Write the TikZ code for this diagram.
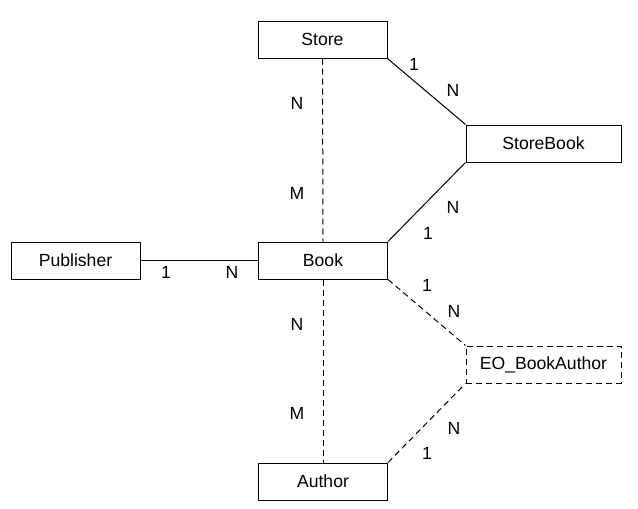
\documentclass[tikz,border=0pt]{standalone}
\usepackage{fontspec}
\setmainfont{Liberation Sans}
\begin{document}
\begin{tikzpicture}[x=1pt,y=-1pt,
  ent/.style={draw, line width=1pt, minimum width=129pt, minimum height=37pt, inner sep=0pt, font=\fontsize{17.6}{21}\selectfont},
  wide/.style={ent, minimum width=155pt},
  dashedbox/.style={wide, dash pattern=on 6pt off 4pt},
  conn/.style={line width=1pt},
  dconn/.style={line width=1pt, dash pattern=on 6pt off 4pt},
  lbl/.style={font=\fontsize{17.6}{21}\selectfont, inner sep=0pt}]
\useasboundingbox (0,0) rectangle (638,509);
\node[ent] (store) at (322.5,39.5) {Store};
\node[wide] (storebook) at (543.5,143.5) {StoreBook};
\node[ent] (publisher) at (75.5,260.5) {Publisher};
\node[ent] (book) at (323,260.5) {Book};
\node[dashedbox] (eo) at (543.5,364.5) {EO\_BookAuthor};
\node[ent] (author) at (323,481.5) {Author};

\draw[conn] (store.south east) -- (storebook.north west);
\draw[conn] (storebook.south west) -- (book.north east);
\draw[conn] (publisher.east) -- (book.west);
\draw[dconn] (store.south) -- (book.north);
\draw[dconn] (book.south) -- (author.north);
\draw[dconn] (book.south east) -- (eo.north west);
\draw[dconn] (author.north east) -- (eo.south west);

\node[lbl] (l1) at (414,64) {1};
\node[lbl] (l2) at (453,90) {N};
\node[lbl] (l3) at (297,103) {N};
\node[lbl] (l4) at (297,193) {M};
\node[lbl] (l5) at (453,207) {N};
\node[lbl] (l6) at (428,233) {1};
\node[lbl] (l7) at (166,272) {1};
\node[lbl] (l8) at (232,272) {N};
\node[lbl] (l9) at (427,285) {1};
\node[lbl] (l10) at (454,311) {N};
\node[lbl] (l11) at (297,324) {N};
\node[lbl] (l12) at (297,413) {M};
\node[lbl] (l13) at (454,428) {N};
\node[lbl] (l14) at (427,453) {1};
\end{tikzpicture}
\end{document}
